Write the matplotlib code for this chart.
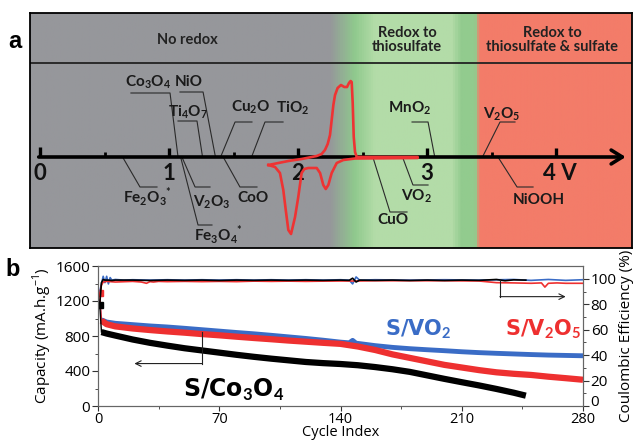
import numpy as np
import matplotlib
matplotlib.use('Agg')
import matplotlib.pyplot as plt
import matplotlib.transforms as mtransforms
from matplotlib.colors import LinearSegmentedColormap

plt.rcParams['font.family'] = ['Open Sans', 'DejaVu Sans']
plt.rcParams['mathtext.fontset'] = 'custom'
plt.rcParams['mathtext.rm'] = 'Open Sans'
plt.rcParams['mathtext.bf'] = 'Lato:bold'

# ---------------- panel a : redox potentials ----------------
compounds = ['Fe$_\\mathbf{2}$O$_\\mathbf{3}$$^\\mathbf{*}$', 'Co$_\\mathbf{3}$O$_\\mathbf{4}$',
             'Fe$_\\mathbf{3}$O$_\\mathbf{4}$$^\\mathbf{*}$', 'V$_\\mathbf{2}$O$_\\mathbf{3}$',
             'Ti$_\\mathbf{4}$O$_\\mathbf{7}$', 'NiO', 'Cu$_\\mathbf{2}$O', 'CoO', 'TiO$_\\mathbf{2}$',
             'CuO', 'VO$_\\mathbf{2}$', 'MnO$_\\mathbf{2}$', 'V$_\\mathbf{2}$O$_\\mathbf{5}$', 'NiOOH']
potentials = [0.64, 1.07, 1.09, 1.10, 1.26, 1.36, 1.40, 1.42, 1.64, 2.58, 2.81, 3.06, 3.43, 3.55]

# CV loop (V, current in arbitrary units)
cv_v = [1.770, 1.848, 1.925, 2.028, 2.106, 2.145, 2.183, 2.209, 2.230, 2.248, 2.261, 2.274, 2.287,
        2.307, 2.333, 2.359, 2.380, 2.395, 2.408, 2.416, 2.424, 2.432, 2.442, 2.455, 2.928,
        2.928, 2.442, 2.351, 2.300, 2.261, 2.235, 2.215, 2.196, 2.171, 2.145, 2.080, 2.049,
        2.028, 2.002, 1.977, 1.946, 1.925, 1.905, 1.886, 1.860, 1.822, 1.770]
cv_i = [-8, -6, -4, -2, 0, 1, 3, 7, 13, 22, 37, 52, 62, 69, 72, 70, 70, 74, 76, 75, 54, 20, 5, 0, 0,
        -1, -1.5, -3, -6, -16, -28, -32, -28, -16, -11, -11, -12, -16, -40, -60, -77, -73, -53,
        -33, -16, -10, -8]

regions = ['No redox', 'Redox to\nthiosulfate', 'Redox to\nthiosulfate & sulfate']
volt_ticks = [0, 1, 2, 3, 4]
volt_labels = ['0', '1', '2', '3', '4 V']

# ---------------- panel b : cycling ----------------
co_cycles = [1, 2, 5, 10, 20, 30, 40, 50, 60, 70, 80, 90, 100, 110, 120, 130, 140, 150, 160, 170,
             180, 190, 200, 210, 220, 230, 240, 247]
cap_co = [1160, 845, 828, 805, 760, 722, 690, 660, 635, 610, 585, 562, 541, 522, 503, 490, 480, 466,
          445, 420, 390, 350, 310, 272, 235, 195, 152, 118]

v2o5_cycles = [1, 2, 5, 10, 20, 30, 40, 50, 60, 70, 80, 90, 100, 110, 120, 130, 140, 150, 160, 170,
               180, 190, 200, 210, 220, 230, 240, 250, 260, 270, 280]
cap_v2o5 = [1290, 975, 935, 910, 886, 868, 852, 838, 822, 808, 792, 777, 763, 748, 735, 722, 710,
            680, 640, 590, 550, 510, 470, 440, 410, 385, 368, 355, 335, 318, 300]

vo2_cycles = [1, 2, 5, 10, 20, 30, 40, 50, 60, 70, 80, 90, 100, 110, 120, 130, 140, 145, 147, 149,
              160, 170, 180, 190, 200, 210, 220, 230, 240, 250, 260, 270, 280]
cap_vo2 = [1210, 985, 960, 945, 930, 915, 903, 888, 872, 856, 840, 825, 808, 790, 772, 752, 730, 722,
           750, 718, 690, 670, 655, 643, 632, 620, 610, 602, 595, 588, 582, 578, 574]

ce_co_cycles = [1, 2, 3, 4, 6, 8, 10, 20, 30, 40, 50, 60, 70, 80, 90, 100, 110, 120, 130, 140, 145,
                147, 149, 151, 160, 170, 180, 190, 200, 210, 220, 230, 235, 240, 247]
ce_co = [80, 97, 99.5, 99, 99, 98.7, 99, 99, 98.7, 99, 98.8, 99, 98.7, 99, 98.8, 99, 98.8, 99, 98.8,
         99, 98.8, 100.5, 97.5, 99, 98.8, 99, 98.7, 99, 98.7, 99, 98.8, 99.5, 98.5, 99.2, 99]

ce_vo2_cycles = [1, 2, 3, 4, 5, 6, 7, 8, 10, 15, 20, 30, 40, 50, 60, 70, 80, 90, 100, 110, 120, 130,
                 140, 145, 147, 149, 151, 160, 180, 200, 220, 240, 250, 260, 270, 280]
ce_vo2 = [90, 96, 102, 97, 102, 96, 101, 99, 99.5, 99, 99.3, 99, 99.3, 99, 99.3, 99, 99.3, 99, 99.3,
          99, 99.3, 99, 99.3, 99, 96, 101.5, 99, 99.3, 99, 99.3, 99, 99.5, 98.8, 99.5, 98.8, 99.3]

ce_v2o5_cycles = [1, 2, 3, 5, 10, 20, 25, 28, 30, 32, 35, 40, 50, 60, 70, 80, 90, 100, 110, 120, 130,
                  140, 150, 160, 180, 200, 220, 230, 240, 250, 256, 258, 260, 265, 270, 280]
ce_v2o5 = [88, 95, 97.5, 98, 97.5, 98, 97.5, 96.5, 97.8, 97.5, 98, 97.8, 98, 97.8, 98, 97.8, 98.2,
           98, 98.2, 98, 98.2, 98.3, 98.3, 98.5, 98.5, 98.5, 98.3, 97, 96.8, 96.5, 96.8, 93.5, 96.5,
           96.8, 96.5, 96.5]

c_black = 'black'
c_red = '#ee3030'
c_blue = '#3a6cc6'

fig = plt.figure(figsize=(6.33, 4.41), dpi=100)

# ===================== panel a =====================
x0, x1 = -0.0775, 4.589
y0, y1 = -91, 144
axa = fig.add_axes([30/633, 193/441, 602/633, 235/441])
axa.set_xlim(x0, x1)
axa.set_ylim(y0, y1)

stops = [(-0.0775, '#96979b'), (2.25, '#96979b'), (2.44, '#8fc98d'), (2.60, '#b3dca8'),
         (3.20, '#b3dca8'), (3.27, '#92cb8e'), (3.38, '#92cb8e'), (3.41, '#f37c69'),
         (4.589, '#f37c69')]
cmap = LinearSegmentedColormap.from_list('bg', [((v - x0) / (x1 - x0), c) for v, c in stops])
grad = np.linspace(0, 1, 800)[None, :]
axa.imshow(grad, extent=[x0, x1, y0, y1], aspect='auto', cmap=cmap, vmin=0, vmax=1, zorder=0)

for s in axa.spines.values():
    s.set_linewidth(1.3)
axa.set_xticks([])
axa.set_yticks([])
axa.axhline(94, color='#222222', lw=1.3)

reg_x = [1.14, 2.845, 3.969]
for r, x in zip(regions, reg_x):
    axa.text(x, 117, r, ha='center', va='center', fontsize=10.5, fontweight='bold',
             family='Lato', color='#222222', linespacing=1.05)

# potential axis with arrow
axa.annotate('', xy=(4.54, 0), xytext=(-0.01, 0),
             arrowprops=dict(arrowstyle='->,head_length=0.8,head_width=0.5', lw=2.6,
                             color='black', shrinkA=0, shrinkB=0), zorder=3)
axa.plot([0, 0], [0, 10], color='black', lw=2.4, solid_capstyle='butt', zorder=3)
for v in volt_ticks[1:]:
    axa.plot([v, v], [0, 9], color='black', lw=2.4, solid_capstyle='butt', zorder=3)
for v in [0.5, 1.5, 2.5, 3.5]:
    axa.plot([v, v], [0, 5], color='black', lw=2.0, solid_capstyle='butt', zorder=3)
for v, lab in zip(volt_ticks, volt_labels):
    if lab == '4 V':
        axa.text(v - 0.10, -17, lab, ha='left', va='center', fontsize=16, fontweight='bold',
                 family='Lato', color='#111111')
    else:
        axa.text(v, -17, lab, ha='center', va='center', fontsize=16, fontweight='bold',
                 family='Lato', color='#111111')

# CV curve
axa.plot(cv_v, cv_i, color='#ee3333', lw=1.9, zorder=4)

# leader lines: knee point, end of the horizontal stroke, text position
label_layout = {
    'Fe2O3': ((0.775, -30), 0.907, (0.829, -40)),
    'Co3O4': ((1.008, 64), 0.705, (0.837, 75)),
    'Fe3O4': ((1.225, -68), 1.333, (1.380, -78)),
    'V2O3': ((1.202, -30), 1.318, (1.333, -45)),
    'Ti4O7': ((1.217, 36), 1.070, (1.147, 45)),
    'NiO': ((1.264, 65), 1.085, (1.155, 75)),
    'Cu2O': ((1.512, 35), 1.643, (1.636, 50)),
    'CoO': ((1.550, -30), 1.682, (1.651, -41)),
    'TiO2': ((1.744, 35), 1.884, (1.961, 49)),
    'CuO': ((2.713, -55), 2.845, (2.736, -63)),
    'VO2': ((2.891, -28), 3.008, (2.922, -39)),
    'MnO2': ((3.008, 35), 2.884, (2.868, 49)),
    'V2O5': ((3.566, 35), 3.682, (3.581, 43)),
    'NiOOH': ((3.698, -30), 3.822, (3.868, -43)),
}
for name, v, (knee, xend, tpos) in zip(compounds, potentials, label_layout.values()):
    axa.plot([v, knee[0], xend], [0, knee[1], knee[1]], color='#2a2a2a', lw=0.8, zorder=2)
    axa.text(tpos[0], tpos[1], name, ha='center', va='center', fontsize=11,
             fontweight='bold', family='Lato', color='#1a1a1a', zorder=5)

fig.text(15/633, 1 - 42/441, 'a', fontsize=17, fontweight='bold', family='Liberation Sans',
         ha='center', va='center')

# ===================== panel b =====================
ax = fig.add_axes([98/633, 35/441, 485/633, 140/441])
ax2 = ax.twinx()

ax.plot(vo2_cycles[:2], cap_vo2[:2], color=c_blue, lw=1)
ax.plot(vo2_cycles[1:], cap_vo2[1:], color=c_blue, lw=3.5, solid_capstyle='butt')
ax.plot(v2o5_cycles[:2], cap_v2o5[:2], color=c_red, lw=1)
ax.plot(v2o5_cycles[1:], cap_v2o5[1:], color=c_red, lw=4.5, solid_capstyle='butt')
ax.plot(co_cycles[:2], cap_co[:2], color=c_black, lw=1)
ax.plot(co_cycles[1:], cap_co[1:], color=c_black, lw=4.5, solid_capstyle='butt')
ax.plot(v2o5_cycles[0], cap_v2o5[0], 's', color=c_red, ms=4)
ax.plot(co_cycles[0], cap_co[0], 's', color=c_black, ms=4)

ax2.plot(ce_vo2_cycles, ce_vo2, color=c_blue, lw=1.2)
ax2.plot(ce_v2o5_cycles, ce_v2o5, color=c_red, lw=1.2)
ax2.plot(ce_co_cycles, ce_co, color=c_black, lw=1.2)

ax.set_xlim(0, 280)
ax.set_ylim(0, 1600)
ax2.set_ylim(0, 110.1)
ax.set_xticks([0, 70, 140, 210, 280])
ax.set_xticks([35, 105, 175, 245], minor=True)
ax.set_yticks([0, 400, 800, 1200, 1600])
ax.set_yticks([200, 600, 1000, 1400], minor=True)
ax2.set_yticks([0, 20, 40, 60, 80, 100])
ax2.set_yticks([10, 30, 50, 70, 90], minor=True)
for a in (ax, ax2):
    a.tick_params(which='major', length=4, width=0.8, labelsize=11, colors='#333333',
                  labelcolor='black', pad=1.5)
    a.tick_params(which='minor', length=2, width=0.6, colors='#333333')
    for s in a.spines.values():
        s.set_color('#666666')
        s.set_linewidth(0.8)
ax.tick_params(axis='x', which='major', length=3.5, pad=0.5, labelsize=10.5)

# lift the right-hand "0" a little so it clears the "280" below it
zero_lbl = ax2.yaxis.get_major_ticks()[0].label2
zero_lbl.set_transform(zero_lbl.get_transform() +
                       mtransforms.ScaledTranslation(0, 4 / 72, fig.dpi_scale_trans))

ax.set_xlabel('Cycle Index', fontsize=10.5)
ax.xaxis.set_label_coords(0.5, -(440.5 - 406) / 140)
ax.xaxis.label.set_va('bottom')
ax.set_ylabel('Capacity (mA.h.g$^{-1}$)', fontsize=11, labelpad=1)
ax2.set_ylabel('Coulombic Efficiency (%)', fontsize=11, labelpad=2)

# guide arrows
ax.plot([60, 60], [850, 485], color='#222222', lw=0.8)
ax.annotate('', xy=(21, 485), xytext=(60, 485),
            arrowprops=dict(arrowstyle='->', lw=0.8, color='#222222', shrinkA=0, shrinkB=0))
ax2.plot([232, 232], [99, 86], color='#222222', lw=0.8)
ax2.annotate('', xy=(270, 86), xytext=(232, 86),
             arrowprops=dict(arrowstyle='->', lw=0.8, color='#222222', shrinkA=0, shrinkB=0))

ax.text(78, 184, 'S/Co$_\\mathbf{3}$O$_\\mathbf{4}$', fontsize=17, fontweight='bold',
        family='DejaVu Sans', ha='center', va='center', color=c_black)
ax.text(185, 879, 'S/VO$_\\mathbf{2}$', fontsize=15, fontweight='bold',
        family='DejaVu Sans', ha='center', va='center', color=c_blue)
ax.text(257, 879, 'S/V$_\\mathbf{2}$O$_\\mathbf{5}$', fontsize=15, fontweight='bold',
        family='DejaVu Sans', ha='center', va='center', color=c_red)

fig.text(13/633, 1 - 270/441, 'b', fontsize=17, fontweight='bold', family='Liberation Sans',
         ha='center', va='center')

fig.savefig('out.png', dpi=100)
